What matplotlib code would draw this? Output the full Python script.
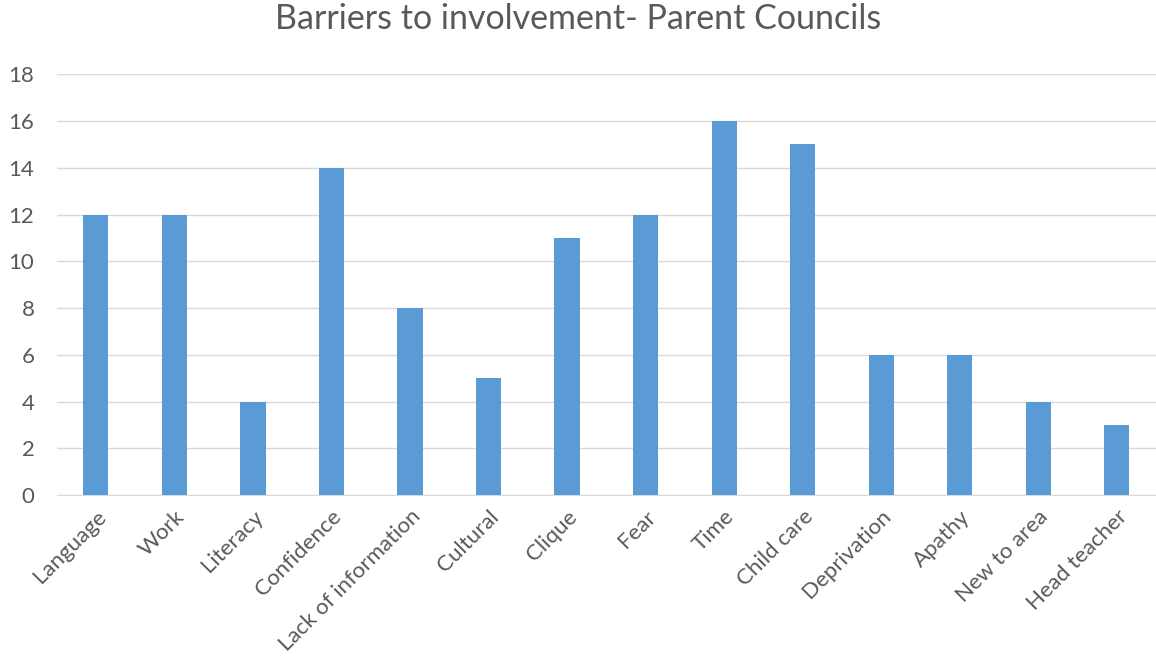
import matplotlib
matplotlib.use("Agg")
import matplotlib.pyplot as plt

# Data
categories = ["Language", "Work", "Literacy", "Confidence", "Lack of information",
              "Cultural", "Clique", "Fear", "Time", "Child care", "Deprivation",
              "Apathy", "New to area", "Head teacher"]
counts = [12, 12, 4, 14, 8, 5, 11, 12, 16, 15, 6, 6, 4, 3]
y_ticks = list(range(0, 19, 2))

plt.rcParams['font.family'] = ['Lato', 'DejaVu Sans']
text_color = "#595959"

fig = plt.figure(figsize=(11.56, 6.63), dpi=100)
ax = fig.add_axes([0.049, 0.253, 0.951, 0.635])

x = range(len(categories))
ax.bar(x, counts, width=0.32, color="#5B9BD5", zorder=3)

ax.set_xlim(-0.5, len(categories) - 0.5)
ax.set_ylim(0, 18)
ax.set_yticks(y_ticks)
ax.set_xticks(list(x))
ax.set_xticklabels(categories, rotation=45, ha="right", rotation_mode="anchor")

ax.grid(axis="y", color="#D9D9D9", linewidth=1, zorder=0)
for side in ["top", "right", "left"]:
    ax.spines[side].set_visible(False)
ax.spines["bottom"].set_color("#D9D9D9")
ax.tick_params(axis="both", length=0, labelsize=16, colors=text_color)
ax.tick_params(axis="y", pad=16)
ax.tick_params(axis="x", pad=8)

fig.suptitle("Barriers to involvement- Parent Councils", fontsize=24.5,
             color=text_color, y=0.995)

fig.savefig("out.png", dpi=100)
